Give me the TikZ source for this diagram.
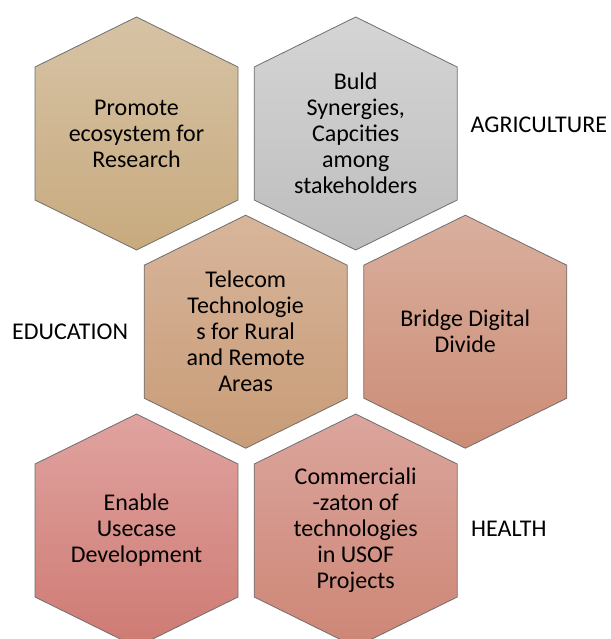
\documentclass[tikz,border=0pt]{standalone}
\usepackage{fontspec}
\setmainfont{Carlito}
\definecolor{tanA}{HTML}{D6C3A5}\definecolor{tanB}{HTML}{C8AA7E}
\definecolor{grayA}{HTML}{D5D5D5}\definecolor{grayB}{HTML}{BDBDBD}
\definecolor{peachA}{HTML}{D8B59B}\definecolor{peachB}{HTML}{C89C77}
\definecolor{roseA}{HTML}{D9AF9D}\definecolor{roseB}{HTML}{CC8C76}
\definecolor{pinkA}{HTML}{E0A3A0}\definecolor{pinkB}{HTML}{CE7A72}
\definecolor{coralA}{HTML}{DBA59D}\definecolor{coralB}{HTML}{CD8675}
\definecolor{edge}{HTML}{6E6E6E}
\tikzset{
  hexfill/.style={draw=edge, line width=0.8pt, line join=miter},
  hextext/.style={align=center, font=\fontsize{24}{26}\selectfont, text=black, inner sep=0pt},
  sidelabel/.style={font=\fontsize{24}{26}\selectfont, text=black, inner sep=0pt}
}
\newcommand{\hexshape}[7]{%
  % #1 name, #2 x, #3 y, #4 top colour, #5 bottom colour, #6 text, #7 unused
  \shade[hexfill, top color=#4, bottom color=#5]
    (#2,#3-116.5) -- (#2+101.5,#3-66.5) -- (#2+101.5,#3+66.5) -- (#2,#3+116.5)
    -- (#2-101.5,#3+66.5) -- (#2-101.5,#3-66.5) -- cycle;
  \node[hextext] (#1) at (#2,#3) {#6};%
}
\begin{document}
\begin{tikzpicture}[x=1pt,y=-1pt]
\useasboundingbox (0,0) rectangle (610,639);
\clip (0,0) rectangle (610,639);
\hexshape{h1}{136.5}{133.5}{tanA}{tanB}{Promote\\ecosystem for\\Research}{}
\hexshape{h2}{355.7}{133.5}{grayA}{grayB}{Buld\\Synergies,\\Capcities\\among\\stakeholders}{}
\hexshape{h3}{245.7}{331.7}{peachA}{peachB}{Telecom\\Technologie\\s for Rural\\and Remote\\Areas}{}
\hexshape{h4}{465.3}{331.7}{roseA}{roseB}{Bridge Digital\\Divide}{}
\hexshape{h5}{136.5}{530.5}{pinkA}{pinkB}{Enable\\Usecase\\Development}{}
\hexshape{h6}{355.7}{530.5}{coralA}{coralB}{Commerciali\\-zaton of\\technologies\\in USOF\\Projects}{}
\node[sidelabel, anchor=west] (agri) at (470.5,125) {AGRICULTURE};
\node[sidelabel, anchor=west] (edu) at (12,332) {EDUCATION};
\node[sidelabel, anchor=west] (health) at (471,529) {HEALTH};
\end{tikzpicture}
\end{document}
